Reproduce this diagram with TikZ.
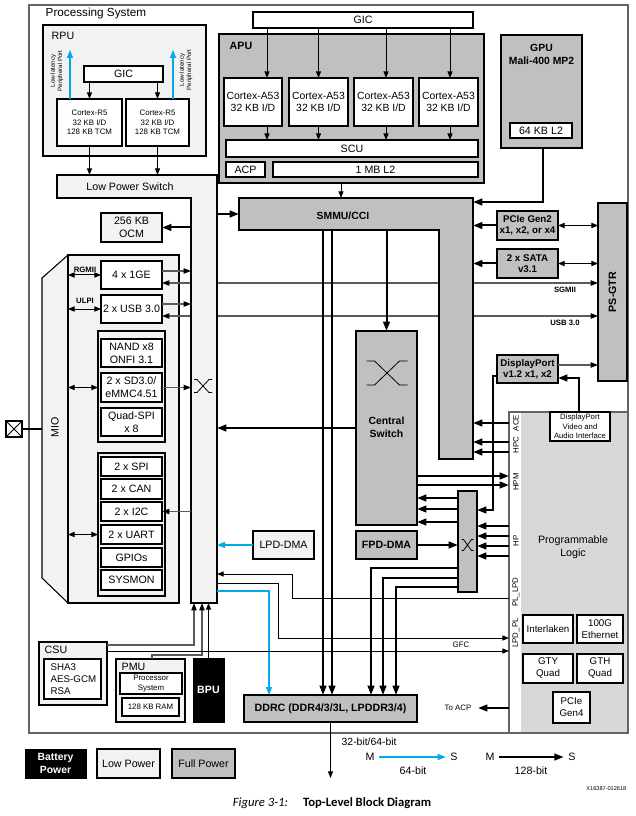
\documentclass[tikz,border=0pt]{standalone}
\usepackage{fontspec}
\setmainfont{Liberation Sans}
\newfontfamily\capfont{Carlito}
\usetikzlibrary{arrows.meta,calc}
\definecolor{lpc}{RGB}{242,242,242}
\definecolor{fpc}{RGB}{192,192,192}
\definecolor{plc}{RGB}{216,216,216}
\definecolor{bluec}{RGB}{0,170,235}
\definecolor{greyc}{RGB}{90,90,90}
\definecolor{framec}{RGB}{100,100,100}
\tikzset{
 pics/xing/.style n args={3}{code={\draw[line width=0.6pt] (-#1,-#2) -- (-#1+#3,-#2) -- (#1-#3,#2) -- (#1,#2) (-#1,#2) -- (-#1+#3,#2) -- (#1-#3,-#2) -- (#1,-#2);}},
 bx/.style n args={4}{inner sep=0pt, outer sep=0pt, align=center, minimum width={(#3-#1)*0.75pt}, minimum height={(#4-#2)*0.75pt}, at={({(#1+#3)/2},{(#2+#4)/2})}},
 wb/.style={draw=black, fill=white, line width=0.8pt},
 lp/.style={draw=black, fill=lpc, line width=0.8pt},
 fp/.style={draw=black, fill=fpc, line width=0.8pt},
 thk/.style={line width=1.5pt, -{Triangle[length=7pt,width=5pt]}},
 thn/.style={line width=0.75pt, -{Triangle[length=5pt,width=3.8pt]}},
 gar/.style={draw=greyc, line width=0.8pt, -{Triangle[length=5.5pt,width=4pt,color=black]}},
 gdbl/.style={draw=greyc, line width=0.8pt, {Triangle[length=5.5pt,width=4pt,color=black]}-{Triangle[length=5.5pt,width=4pt,color=black]}},
 dbl/.style={line width=0.75pt, {Triangle[length=5pt,width=4pt]}-{Triangle[length=5pt,width=4pt]}},
 blu/.style={draw=bluec, line width=0.9pt, -{Triangle[length=6pt,width=4.5pt]}},
 f8/.style={font=\fontsize{8}{9.5}\selectfont},
 f8b/.style={font=\fontsize{8}{9.5}\selectfont\bfseries},
 f7/.style={font=\fontsize{7.3}{9}\selectfont},
 f7b/.style={font=\fontsize{7.3}{8.6}\selectfont\bfseries},
 f6/.style={font=\fontsize{5.9}{7.2}\selectfont},
 f6b/.style={font=\fontsize{5.8}{7}\selectfont\bfseries},
 f5/.style={font=\fontsize{4.6}{5.4}\selectfont},
}
\begin{document}
\begin{tikzpicture}[x=0.75pt,y=-0.75pt, every node/.style={font=\fontsize{8}{9.5}\selectfont}]
\useasboundingbox (0,0) rectangle (635,816);
% Processing system frame
\node[draw=framec, line width=1pt, fill=white, bx={29}{5}{628}{733}] (ps) {};
\node[anchor=base west, font=\fontsize{8.8}{10}\selectfont] (pslbl) at (41,17) {Processing System};
% invisible anchors
\node[bx={191}{198}{217}{603}] (lpbar) {};
\node[bx={57}{175}{217}{198}] (lpsw) {};
\node[bx={239}{198}{473}{230}] (smmuh) {};
\node[bx={439}{230}{473}{459}] (smmuv) {};
\node[bx={509}{412}{628}{733}] (pl) {};
% MIO
\draw[lp] (42,278) -- (68,255) -- (179,255) -- (179,603) -- (68,603) -- (42,578) -- cycle;
\node[lp, bx={68}{255}{179}{603}] (mioin) {};
\node[rotate=90] (miolbl) at (55,427) {MIO};
\node[wb, bx={6}{421}{22}{437}] (pin) {};
\draw[line width=0.6pt] (pin.north west) -- (pin.south east) (pin.north east) -- (pin.south west);
\coordinate (miol) at (42,429);
\draw[line width=0.8pt] (pin.east) -- (miol);
\node[wb, bx={101}{261}{162}{289}] (ge) {4 x 1GE};
\node[wb, bx={101}{295}{162}{323}] (usb) {2 x USB 3.0};
\node[f6b] (rgmii) at (85,270) {RGMII};
\node[f6b] (ulpi) at (85,301) {ULPI};
\draw[dbl] (ge.west -| mioin.west) -- (ge.west);
\draw[dbl] (usb.west -| mioin.west) -- (usb.west);
\node[lp, bx={98}{331}{165}{442}] (grp1) {};
\node[wb, bx={101}{339}{162}{367}] (nand) {NAND x8\\ONFI 3.1};
\node[wb, bx={101}{373}{162}{402}] (sd) {2 x SD3.0/\\eMMC4.51};
\node[wb, bx={101}{408}{162}{436}] (qspi) {Quad-SPI\\x 8};
\draw[dbl] (sd.west -| mioin.west) -- (sd.west -| grp1.west);
\node[lp, bx={98}{453}{165}{596}] (grp2) {};
\node[wb, bx={101}{457}{162}{476}] (spi) {2 x SPI};
\node[wb, bx={101}{479}{162}{499}] (can) {2 x CAN};
\node[wb, bx={101}{502}{162}{521}] (i2c) {2 x I2C};
\node[wb, bx={101}{525}{162}{544}] (uart) {2 x UART};
\node[wb, bx={101}{548}{162}{567}] (gpio) {GPIOs};
\node[wb, bx={101}{570}{162}{590}] (sysmon) {SYSMON};
\draw[dbl] (uart.west -| mioin.west) -- (uart.west -| grp2.west);
% PS-GTR and long serial lines
\node[fp, bx={598}{203}{627}{381}] (psgtr) {};
\node[rotate=90, f8b] (psgtrlbl) at (psgtr.center) {PS-GTR};
\draw[gdbl] ($(ge.east)+(0,8)$) -- ($(psgtr.west |- ge.east)+(0,8)$);
\draw[gdbl] ($(usb.east)+(0,7)$) -- ($(psgtr.west |- usb.east)+(0,7)$);
\node[f6b] (sgmiil) at (565,290) {SGMII};
\node[f6b] (usbl) at (565,323) {USB 3.0};
% Low power switch
\draw[lp] (57,175) -- (217,175) -- (217,603) -- (191,603) -- (191,198) -- (57,198) -- cycle;
\node (lpswlbl) at (130,187) {Low Power Switch};
\pic at (203,386) {xing={9}{6.5}{3}};
\draw[gar] ($(ge.east)+(0,-4)$) -- ($(lpbar.west |- ge.east)+(0,-4)$);
\draw[gar] ($(usb.east)+(0,-5)$) -- ($(lpbar.west |- usb.east)+(0,-5)$);
\draw[gar] (sd.east) -- (sd.east -| lpbar.west);
\draw[gar] (i2c.east -| lpbar.west) -- (i2c.east);
\node[lp, bx={101}{213}{162}{242}] (ocm) {256 KB\\OCM};
\draw[thk] (ocm.east -| lpbar.west) -- (ocm.east);
% RPU
\node[lp, bx={43}{25}{206}{156}] (rpu) {};
\node[anchor=base west] (rpulbl) at (47,40) {RPU};
\node[wb, bx={84}{66}{163}{82}] (rgic) {GIC};
\node[wb, f6, bx={57}{99}{122}{146}] (r5a) {Cortex-R5\\32 KB I/D\\128 KB TCM};
\node[wb, f6, bx={126}{99}{189}{146}] (r5b) {Cortex-R5\\32 KB I/D\\128 KB TCM};
\draw[thn] (rgic.south -| r5a.north) -- (r5a.north);
\draw[thn] (rgic.south -| r5b.north) -- (r5b.north);
\coordinate (lpa) at (70,50);
\coordinate (lpb) at (173,50);
\draw[blu] (r5a.north -| lpa) -- (lpa);
\draw[blu] (r5b.north -| lpb) -- (lpb);
\node[rotate=90, align=center, f5, inner sep=0pt] (llpa) at (57,71) {Low-latency\\Peripheral Port};
\node[rotate=90, align=center, f5, inner sep=0pt] (llpb) at (186,70) {Low-latency\\Peripheral Port};
\draw[thn] (r5a.south) -- (r5a.south |- lpsw.north);
\draw[thn] (r5b.south) -- (r5b.south |- lpsw.north);
% APU
\node[wb, bx={253}{12}{473}{28}] (agic) {GIC};
\node[fp, bx={219}{34}{484}{183}] (apu) {};
\node[anchor=base west, f8b] (apulbl) at (225,50) {APU};
\node[wb, font=\fontsize{7.8}{9}\selectfont, bx={224}{78}{282}{126}] (a1) {Cortex-A53\\32 KB I/D};
\node[wb, font=\fontsize{7.8}{9}\selectfont, bx={289}{78}{348}{126}] (a2) {Cortex-A53\\32 KB I/D};
\node[wb, font=\fontsize{7.8}{9}\selectfont, bx={354}{78}{413}{126}] (a3) {Cortex-A53\\32 KB I/D};
\node[wb, font=\fontsize{7.8}{9}\selectfont, bx={419}{78}{478}{126}] (a4) {Cortex-A53\\32 KB I/D};
\node[wb, bx={226}{140}{478}{157}] (scu) {SCU};
\node[wb, bx={226}{162}{265}{177}] (acp) {ACP};
\node[wb, bx={273}{162}{478}{177}] (l2) {1 MB L2};
\foreach \n/\d in {a1/14,a2/0,a3/2.5,a4/1.5}{
 \draw[thn] ($(agic.south -| \n.north)+(\d,0)$) -- ($(\n.north)+(\d,0)$);
 \draw[thn] ($(\n.south)+(\d,0)$) -- ($(scu.north -| \n.south)+(\d,0)$);
}
% SMMU
\draw[fp] (239,198) -- (473,198) -- (473,459) -- (439,459) -- (439,230) -- (239,230) -- cycle;
\node[font=\fontsize{7.8}{9}\selectfont\bfseries] (smmulbl) at (343,216) {SMMU/CCI};
\draw[thn] ($(apu.south)+(-10.5,0)$) -- ($(smmuh.north -| apu.south)+(-10.5,0)$);
\draw[thk] (smmuh.west -| lpbar.east) -- (smmuh.west);
% GPU
\node[fp, bx={501}{35}{582}{148}] (gpu) {};
\node[anchor=north, align=center, font=\fontsize{7.8}{9.5}\selectfont\bfseries] (gpulbl) at (541.5,40) {GPU\\Mali-400 MP2};
\node[wb, bx={510}{123}{572}{138}] (gpul2) {64 KB L2};
\draw[thk] ($(gpu.south)+(1.5,0)$) |- ($(smmuh.north east)+(0,4)$);
% PCIe, SATA
\node[fp, f7b, bx={497}{211}{558}{240}] (pcie2) {PCIe Gen2\\x1, x2, or x4};
\node[fp, f7b, bx={497}{249}{558}{278}] (sata) {2 x SATA\\v3.1};
\draw[thk] (pcie2.west) -- (pcie2.west -| smmuv.east);
\draw[thk] (sata.west) -- (sata.west -| smmuv.east);
\draw[dbl] (pcie2.east) -- (pcie2.east -| psgtr.west);
\draw[dbl] (sata.east) -- (sata.east -| psgtr.west);
% PL
\node[draw=framec, fill=white, line width=0.8pt, bx={509}{412}{628}{733}] (plbox) {};
\fill[plc] (521,413) rectangle (627.4,732.4);
\node[f8, align=center] (pllbl) at (573,547) {Programmable\\Logic};
\node[wb, f7, bx={523}{615}{573}{643}] (ilk) {Interlaken};
\node[wb, f7, bx={577}{615}{623}{643}] (eth) {100G\\Ethernet};
\node[wb, f7, bx={523}{654}{573}{683}] (gty) {GTY\\Quad};
\node[wb, f7, bx={577}{654}{623}{683}] (gth) {GTH\\Quad};
\node[wb, f7, bx={553}{692}{590}{723}] (pcie4) {PCIe\\Gen4};
\node[rotate=90, f6] (lace) at (516,423) {ACE};
\node[rotate=90, f6] (lhpc) at (516,445) {HPC};
\node[rotate=90, f6] (lhpm) at (516,482) {HPM};
\node[rotate=90, f6] (lhp) at (516,541) {HP};
\node[rotate=90, f6] (lpllpd) at (516,592) {PL\_LPD};
\node[rotate=90, f6] (llpdpl) at (516,633) {LPD\_PL};
% DisplayPort
\node[fp, f7b, bx={497}{355}{558}{383}] (dp) {DisplayPort\\v1.2 x1, x2};
\node[wb, font=\fontsize{5.8}{7}\selectfont, bx={550}{412}{610}{441}] (dpva) {DisplayPort\\Video and\\Audio Interface};
\draw[gar] ($(dp.east)+(0,-4)$) -- ($(psgtr.west |- dp.east)+(0,-4)$);
\draw[thk] ($(dpva.north)+(-1,0)$) |- ($(dp.east)+(0,9)$);
% Central switch, FPD, X switch, DDRC
\node[fp, bx={356}{331}{417}{525}] (cs) {};
\node[align=center, font=\fontsize{7.8}{9.5}\selectfont\bfseries] (cslbl) at (386.5,427) {Central\\Switch};
\pic at (387,373) {xing={20.5}{12}{8}};
\node[fp, f8b, bx={356}{531}{417}{559}] (fpd) {FPD-DMA};
\node[fp, bx={458}{491}{477}{592}] (xsw) {};
\pic at (467.5,545) {xing={6}{5.5}{2}};
\node[fp, f8b, bx={244}{695}{417}{722}] (ddrc) {DDRC (DDR4/3/3L, LPDDR3/4)};
\node[lp, bx={253}{531}{314}{559}] (lpdma) {LPD-DMA};
\draw[thk] (smmuh.south -| cs.north) -- (cs.north);
\draw[thk] (cs.west) -- (cs.west -| lpbar.east);
\draw[thk] ($(smmuh.south -| ddrc.north)+(-7.5,0)$) -- ($(ddrc.north)+(-7.5,0)$);
\draw[thk] ($(smmuh.south -| ddrc.north)+(1.5,0)$) -- ($(ddrc.north)+(1.5,0)$);
\draw[thk] (fpd.east) -- (fpd.east -| xsw.west);
\draw[thk] ($(dp.west)+(0,7)$) -- ++(-4,0) |- ($(xsw.north east)+(0,19)$);
\foreach \o in {7,18,31}
 \draw[thk] ($(xsw.north west)+(0,\o)$) -- ($(cs.east |- xsw.north west)+(0,\o)$);
\foreach \o in {48,57}
 \draw[thk] ($(cs.east)+(0,\o)$) -- ($(pl.west |- cs.east)+(0,\o)$);
\foreach \o in {193,212,222}
 \draw[thk] ($(pl.west |- smmuv.north)+(0,\o)$) -- ($(smmuv.north east)+(0,\o)$);
\foreach \o in {35,45,55,65}
 \draw[thk] ($(pl.west |- xsw.north)+(0,\o)$) -- ($(xsw.north east)+(0,\o)$);
\foreach \o/\d in {77/40.5,87/52.5,96/65.5}
 \draw[thk] ($(xsw.north west)+(0,\o)$) -| ($(ddrc.north)+(\d,0)$);
\draw[blu] (lpdma.west) -- (lpdma.west -| lpbar.east);
\draw[thn] ($(pl.west |- lpbar.south)+(0,-5)$) -| ($(lpbar.south east)+(75,-29)$) -- ($(lpbar.south east)+(0,-29)$);
\draw[thn] ($(lpbar.south east)+(0,-20)$) -| ($(lpbar.south east)+(61,35)$) -- ($(pl.west |- lpbar.south)+(0,35)$);
\draw[blu] ($(lpbar.south east)+(0,-12)$) -| ($(ddrc.north west)+(25,0)$);
% CSU, PMU, BPU
\node[lp, bx={39}{642}{107}{705}] (csu) {};
\node[anchor=base west] (csulbl) at (40,653) {CSU};
\node[wb, bx={44}{659}{101}{699}] (csuin) {};
\node[anchor=west, align=left, f7] (csutxt) at (46,679) {SHA3\\AES-GCM\\RSA};
\node[lp, bx={116}{659}{185}{722}] (pmu) {};
\node[anchor=base west] (pmulbl) at (117,670) {PMU};
\node[wb, f6, bx={120}{673}{182}{694}] (procsys) {Processor\\System};
\node[wb, f6, bx={122}{698}{179}{716}] (ram) {128 KB RAM};
\node[draw=black, fill=black, text=white, f8b, bx={193}{658}{224}{722}] (bpu) {BPU};
\draw[gar] ($(csu.north east)+(0,3)$) -| ($(lpbar.south west)+(3,0)$);
\draw[gar] ($(pmu.north)+(1.5,0)$) |- ($(lpbar.south west)+(11,52)$) -- ($(lpbar.south west)+(11,0)$);
\draw[thn] (bpu.north) -- (bpu.north |- lpbar.south);
\draw[thn] ($(csu.north east)+(0,9)$) -- ($(pl.west |- csu.north east)+(0,9)$);
\node[f6] (gfc) at (461,645) {GFC};
\coordinate (acpt) at (478,708);
\draw[thk] (pl.west |- acpt) -- (acpt);
\node[anchor=east, f6] (toacp) at (476,708) {To ACP};
% DDRC output
\coordinate (ddrout) at (330.5,778);
\draw[thn] (ddrc.south) -- (ddrout);
\node[anchor=base west, font=\fontsize{7.8}{9}\selectfont] (bw) at (337,745) {32-bit/64-bit};
% legend
\node[draw=black, fill=black, text=white, font=\fontsize{7.8}{9.4}\selectfont\bfseries, bx={25}{749}{86}{778}] (batt) {Battery\\Power};
\node[lp, bx={97}{749}{160}{778}] (lowp) {Low Power};
\node[fp, bx={172}{749}{235}{778}] (fullp) {Full Power};
\node (m1) at (370,757) {M};
\node (s1) at (454,757) {S};
\draw[blu] (m1.east) -- (s1.west);
\node (b64) at (413,771) {64-bit};
\node (m2) at (490,757) {M};
\node (s2) at (572,757) {S};
\draw[thk] (m2.east) -- (s2.west);
\node (b128) at (531,771) {128-bit};
\node[anchor=east, font=\fontsize{4.2}{5}\selectfont] (xid) at (631,789) {X16387-012618};
\node[font=\capfont\fontsize{9.5}{11}\selectfont] (cap) at (332,803) {\textit{Figure 3-1:}\hspace{1.2em}\textbf{Top-Level Block Diagram}};
\end{tikzpicture}
\end{document}
